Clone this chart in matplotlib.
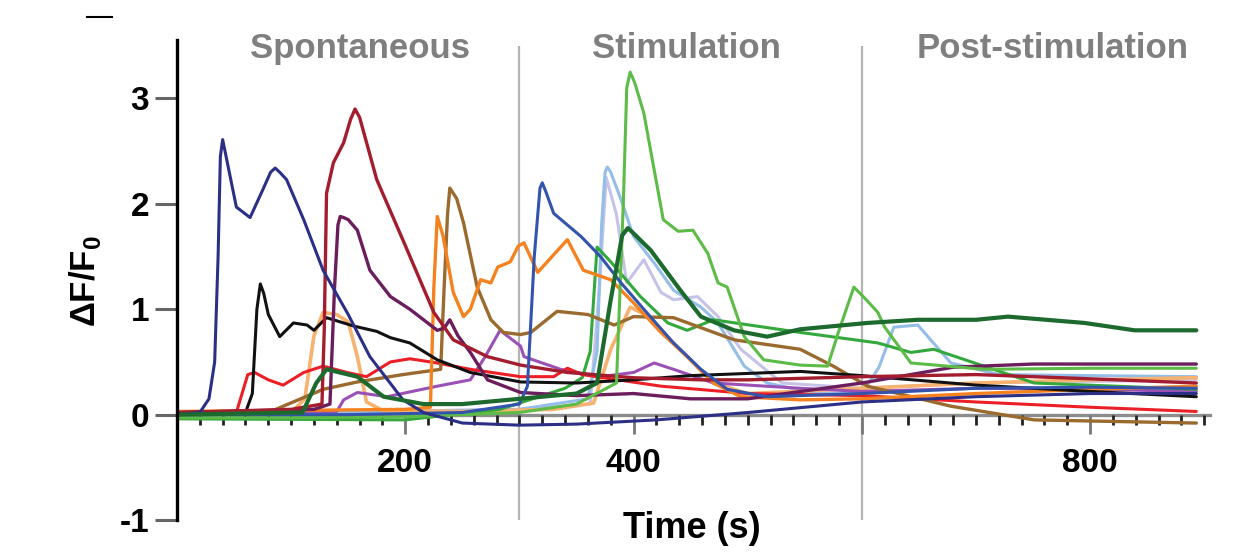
import matplotlib
matplotlib.use("Agg")
import matplotlib.pyplot as plt
from matplotlib.lines import Line2D
from matplotlib.ticker import FixedLocator

plt.rcParams['font.family'] = ['Liberation Sans', 'DejaVu Sans']

# ---- data (time in s, dF/F0) ----
navy_t = [0, 20, 28, 33, 36, 38, 40, 43, 52, 64, 75, 82, 86, 90, 96, 111, 128, 150, 169, 198, 216, 250, 300, 350, 420, 500, 600, 700, 800, 893]
navy_v = [0, 0.02, 0.15, 0.5, 1.5, 2.45, 2.61, 2.45, 1.97, 1.87, 2.13, 2.3, 2.34, 2.3, 2.23, 1.85, 1.37, 0.95, 0.55, 0.14, 0.02, -0.08, -0.1, -0.09, -0.05, 0.02, 0.12, 0.17, 0.2, 0.2]

darkred_t = [0, 100, 127, 129, 131, 137, 146, 152, 156, 160, 175, 199, 225, 242, 272, 283, 301, 342, 400, 459, 500, 600, 700, 800, 893]
darkred_v = [0.02, 0.05, 0.1, 0.8, 2.1, 2.39, 2.58, 2.8, 2.9, 2.82, 2.23, 1.63, 0.97, 0.71, 0.55, 0.52, 0.47, 0.4, 0.35, 0.33, 0.33, 0.36, 0.38, 0.34, 0.3]

plum_t = [0, 120, 134, 138, 141, 143, 146, 150, 158, 169, 187, 204, 228, 234, 239, 246, 257, 272, 301, 350, 400, 450, 500, 600, 680, 750, 893]
plum_v = [0.02, 0.05, 0.1, 1.2, 1.8, 1.88, 1.87, 1.85, 1.75, 1.37, 1.12, 1.0, 0.8, 0.82, 0.9, 0.75, 0.59, 0.33, 0.21, 0.18, 0.2, 0.15, 0.15, 0.3, 0.45, 0.48, 0.48]

black_t = [0, 60, 66, 70, 73, 76, 80, 90, 102, 114, 120, 131, 155, 175, 187, 204, 228, 257, 301, 350, 400, 450, 546, 600, 700, 800, 893]
black_v = [0.0, 0.02, 0.2, 1.0, 1.24, 1.15, 0.95, 0.74, 0.87, 0.85, 0.8, 0.92, 0.84, 0.79, 0.73, 0.68, 0.52, 0.4, 0.31, 0.3, 0.33, 0.37, 0.41, 0.37, 0.28, 0.22, 0.17]

red_t = [0, 52, 57, 62, 68, 80, 93, 111, 128, 149, 166, 187, 204, 228, 257, 301, 330, 342, 355, 424, 500, 600, 700, 800, 893]
red_v = [0.0, 0.02, 0.2, 0.38, 0.4, 0.33, 0.28, 0.4, 0.46, 0.4, 0.36, 0.5, 0.53, 0.49, 0.43, 0.36, 0.36, 0.44, 0.38, 0.27, 0.2, 0.18, 0.12, 0.07, 0.03]

peach_t = [0, 100, 112, 120, 128, 140, 150, 158, 166, 180, 250, 330, 365, 380, 397, 410, 447, 470, 500, 600, 700, 800, 893]
peach_v = [0, 0.02, 0.15, 0.75, 0.97, 0.95, 0.88, 0.55, 0.12, 0.04, 0.03, 0.05, 0.11, 0.62, 1.02, 0.95, 0.55, 0.3, 0.2, 0.25, 0.3, 0.33, 0.35]

orange_t = [0, 200, 222, 225, 228, 233, 242, 251, 257, 266, 275, 281, 292, 299, 304, 316, 342, 356, 380, 400, 424, 447, 470, 494, 546, 600, 700, 800, 893]
orange_v = [0.03, 0.05, 0.07, 1.2, 1.88, 1.7, 1.16, 0.93, 1.0, 1.28, 1.25, 1.4, 1.45, 1.6, 1.63, 1.35, 1.66, 1.37, 1.28, 1.06, 0.78, 0.55, 0.3, 0.17, 0.14, 0.15, 0.2, 0.24, 0.27]

brown_t = [0, 80, 128, 158, 198, 231, 234, 237, 239, 245, 251, 263, 275, 286, 301, 310, 333, 360, 383, 400, 435, 488, 546, 575, 605, 678, 751, 893]
brown_v = [0, 0.02, 0.24, 0.31, 0.38, 0.43, 1.2, 1.9, 2.15, 2.05, 1.82, 1.21, 0.9, 0.78, 0.76, 0.78, 0.98, 0.95, 0.85, 0.93, 0.92, 0.71, 0.62, 0.46, 0.27, 0.08, -0.05, -0.08]

purple_t = [0, 140, 146, 158, 184, 228, 257, 270, 283, 301, 304, 336, 371, 400, 418, 435, 470, 546, 600, 700, 800, 893]
purple_v = [0.02, 0.03, 0.14, 0.21, 0.17, 0.27, 0.33, 0.55, 0.8, 0.65, 0.55, 0.43, 0.36, 0.4, 0.49, 0.43, 0.3, 0.25, 0.22, 0.25, 0.24, 0.22]

darkgreen_t = [0, 110, 122, 131, 158, 181, 216, 250, 300, 350, 368, 380, 390, 395, 400, 415, 441, 459, 488, 517, 546, 605, 649, 700, 728, 795, 839, 893]
darkgreen_v = [0, 0.02, 0.3, 0.43, 0.36, 0.17, 0.1, 0.1, 0.15, 0.2, 0.3, 1.09, 1.7, 1.77, 1.72, 1.56, 1.18, 0.93, 0.8, 0.74, 0.81, 0.87, 0.9, 0.9, 0.93, 0.87, 0.8, 0.8]

brightgreen_t = [0, 100, 200, 300, 350, 385, 391, 394, 397, 401, 409, 426, 439, 452, 465, 474, 482, 497, 514, 546, 570, 580, 593, 603, 614, 620, 643, 707, 800, 893]
brightgreen_v = [-0.03, -0.03, -0.02, 0.02, 0.1, 0.3, 2.0, 3.1, 3.25, 3.15, 2.86, 1.85, 1.74, 1.75, 1.53, 1.25, 1.21, 0.74, 0.52, 0.47, 0.46, 0.8, 1.21, 1.1, 0.97, 0.83, 0.49, 0.43, 0.44, 0.44]

medgreen_t = [0, 200, 283, 340, 355, 362, 368, 380, 406, 430, 447, 470, 546, 614, 643, 663, 707, 751, 893]
medgreen_v = [-0.04, -0.05, 0.05, 0.25, 0.35, 0.6, 1.59, 1.45, 1.12, 0.87, 0.8, 0.9, 0.78, 0.68, 0.59, 0.62, 0.46, 0.3, 0.24]

lightblue_t = [0, 300, 360, 368, 372, 375, 377, 380, 389, 400, 418, 435, 459, 474, 497, 517, 560, 600, 615, 628, 649, 678, 720, 800, 893]
lightblue_v = [0.0, 0.05, 0.15, 0.6, 1.8, 2.3, 2.35, 2.3, 2.04, 1.69, 1.44, 1.18, 1.02, 0.87, 0.46, 0.3, 0.2, 0.2, 0.45, 0.83, 0.85, 0.49, 0.38, 0.37, 0.36]

lavender_t = [0, 300, 362, 370, 376, 385, 394, 409, 424, 435, 456, 474, 494, 530, 600, 700, 893]
lavender_v = [0.0, 0.05, 0.1, 1.2, 2.25, 1.9, 1.25, 1.47, 1.16, 1.09, 1.12, 0.93, 0.62, 0.3, 0.25, 0.3, 0.33]

royal_t = [0, 150, 250, 300, 307, 313, 318, 320, 323, 330, 354, 371, 389, 409, 435, 459, 482, 517, 600, 700, 800, 893]
royal_v = [0, 0.0, 0.02, 0.1, 0.27, 1.5, 2.15, 2.2, 2.12, 1.91, 1.69, 1.5, 1.25, 1.0, 0.68, 0.43, 0.24, 0.17, 0.2, 0.25, 0.26, 0.25]

traces = [
    (lavender_t, lavender_v, '#c6c3e8', 2.2),
    (lightblue_t, lightblue_v, '#94bde8', 2.2),
    (peach_t, peach_v, '#f6b26e', 2.6),
    (purple_t, purple_v, '#9b50b5', 2.2),
    (medgreen_t, medgreen_v, '#33a83c', 2.2),
    (red_t, red_v, '#ec1f26', 2.2),
    (brown_t, brown_v, '#9a6a2e', 2.4),
    (orange_t, orange_v, '#f5821f', 2.4),
    (black_t, black_v, '#111111', 2.2),
    (plum_t, plum_v, '#6b1d5c', 2.4),
    (darkred_t, darkred_v, '#a31d2e', 2.4),
    (brightgreen_t, brightgreen_v, '#5dbb47', 2.2),
    (royal_t, royal_v, '#3353ad', 2.2),
    (navy_t, navy_v, '#2b2f85', 2.2),
    (darkgreen_t, darkgreen_v, '#1d6a2f', 3.0),
]

phase_labels = ['Spontaneous', 'Stimulation', 'Post-stimulation']
phase_x = [160, 446, 767]
divider_x = [300, 600]
x_major = [200, 400, 600, 800]
x_major_labels = ['200', '400', '', '800']
y_ticks = [-1, 0, 1, 2, 3]

fig = plt.figure(figsize=(12.4, 5.53), dpi=100)
ax = fig.add_axes([177/1240, 1-520/553, 1033/1240, 480/553])
ax.set_xlim(0, 905)
ax.set_ylim(-1, 3.555)

ax.vlines(divider_x, -1, 3.5, color='#b4b4b4', lw=1.6, zorder=0.5)

for t, v, c, lw in traces:
    ax.plot(t, v, color=c, lw=lw, zorder=2, solid_joinstyle='round', solid_capstyle='round')

for lab, x in zip(phase_labels, phase_x):
    ax.text(x, 3.38, lab, ha='center', va='baseline', fontsize=25,
            fontweight='bold', color='#7f7f7f')

for s in ['top', 'right']:
    ax.spines[s].set_visible(False)
ax.spines['left'].set_linewidth(2.4)
ax.spines['left'].set_color('black')
ax.spines['bottom'].set_position(('data', 0))
ax.spines['bottom'].set_color('#8c8c8c')
ax.spines['bottom'].set_linewidth(2.4)
ax.spines['bottom'].set_zorder(1)

ax.set_xticks(x_major)
ax.set_xticklabels(x_major_labels)
ax.xaxis.set_minor_locator(FixedLocator([m for m in range(20, 901, 20) if m not in x_major]))
ax.tick_params(axis='x', which='major', length=14, width=2.0, color='#777777',
               pad=10, labelsize=24, direction='out')
ax.tick_params(axis='x', which='minor', length=7, width=2.0, color='#222222', direction='out')
for lbl in ax.get_xticklabels():
    lbl.set_fontweight('bold')

ax.set_yticks(y_ticks)
ax.set_yticklabels([str(y) for y in y_ticks])
ax.tick_params(axis='y', which='major', length=16, width=2.2, color='#666666',
               pad=4, labelsize=24)
for lbl in ax.get_yticklabels():
    lbl.set_fontweight('bold')

fig.text(692/1240, 1-528/553, 'Time (s)', ha='center', va='center',
         fontsize=26, fontweight='bold')
fig.text(85/1240, 1-281/553, r'ΔF/F$_\mathregular{0}$', ha='center', va='center',
         rotation=90, fontsize=25, fontweight='bold')

fig.add_artist(Line2D([87/1240, 112/1240], [1-17/553, 1-17/553], color='black', lw=1.5))

fig.savefig('out.png', dpi=100)
